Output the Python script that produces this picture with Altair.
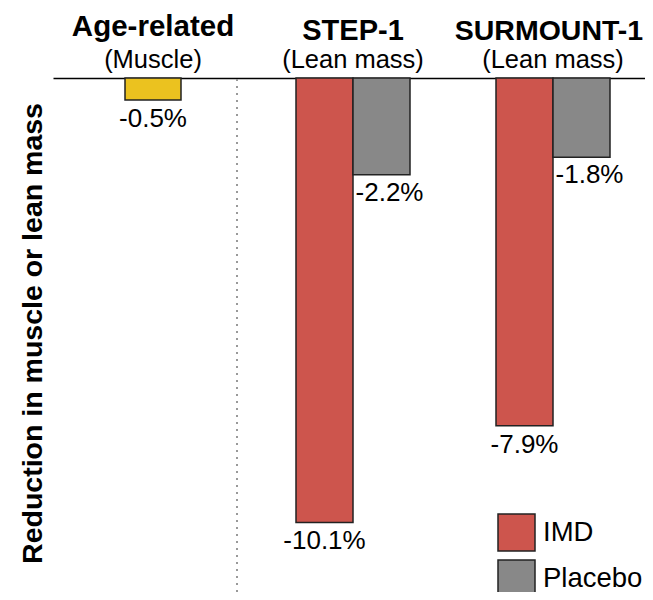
import altair as alt
import pandas as pd

# ---- data ----
groups = ["Age-related", "STEP-1", "SURMOUNT-1"]
titles = ["Age-related", "STEP-1", "SURMOUNT-1"]
subtitles = ["(Muscle)", "(Lean mass)", "(Lean mass)"]

age_group = ["Age-related"]
age_values = [-0.5]

trial_groups = ["STEP-1", "STEP-1", "SURMOUNT-1", "SURMOUNT-1"]
trial_series = ["IMD", "Placebo", "IMD", "Placebo"]
trial_values = [-10.1, -2.2, -7.9, -1.8]

series_domain = ["IMD", "Placebo"]
series_colors = ["#CD554D", "#888888"]
age_color = "#EBC21F"

FONT = "Liberation Sans"
Y_MIN = -11.68

age_df = pd.DataFrame({"group": age_group, "value": age_values})
age_df["label"] = [f"{v:.1f}%" for v in age_values]

bars_df = pd.DataFrame({"group": trial_groups, "series": trial_series, "value": trial_values})
bars_df["label"] = [f"{v:.1f}%" for v in trial_values]

head_df = pd.DataFrame({"group": groups, "title": titles, "subtitle": subtitles})
sep_df = pd.DataFrame({"group": ["Age-related"]})

xscale = alt.Scale(domain=groups, range=[0, 600], paddingInner=0.43, paddingOuter=0.215)
yscale = alt.Scale(domain=[Y_MIN, 0], nice=False)

top_axis = alt.Axis(orient="top", labels=False, ticks=False, title=None, grid=False,
                    domain=True, domainColor="black", domainWidth=1.5)

x_enc = alt.X("group:N", scale=xscale, axis=top_axis)
y_enc = alt.Y(
    "value:Q",
    scale=yscale,
    axis=alt.Axis(labels=False, ticks=False, domain=False, grid=False,
                  title="Reduction in muscle or lean mass",
                  titleFont=FONT, titleFontSize=28.5, titleFontWeight="bold",
                  titleColor="black", titleAngle=270, titleX=-12, titleY=255,
                  titleAlign="center", titleBaseline="alphabetic"),
)
xoff = alt.XOffset("series:N", scale=alt.Scale(domain=series_domain, paddingInner=0, paddingOuter=0))

sep = alt.Chart(sep_df).mark_rule(color="#999999", strokeWidth=2, strokeDash=[2, 5], xOffset=27).encode(
    x=alt.X("group:N", scale=xscale, bandPosition=1, axis=top_axis),
    y=alt.value(1),
    y2=alt.value(514),
)

age_bar = alt.Chart(age_df).mark_bar(size=56, color=age_color, stroke="#222222", strokeWidth=1.5).encode(
    x=x_enc, y=y_enc
)

trial_bars = alt.Chart(bars_df).mark_bar(stroke="#222222", strokeWidth=1.5).encode(
    x=x_enc,
    xOffset=xoff,
    y=y_enc,
    color=alt.Color(
        "series:N",
        scale=alt.Scale(domain=series_domain, range=series_colors),
        legend=alt.Legend(title=None, orient="none", legendX=444, legendY=435,
                          symbolType="square", symbolSize=1369,
                          symbolStrokeColor="#222222", symbolStrokeWidth=1.5,
                          symbolOpacity=1,
                          labelFont=FONT, labelFontSize=27.5, labelColor="black",
                          labelOffset=7, rowPadding=3, padding=0),
    ),
)

age_label = alt.Chart(age_df).mark_text(font=FONT, fontSize=26, baseline="alphabetic", dy=27, color="black").encode(
    x=x_enc, y=y_enc, text="label:N"
)

imd_label = alt.Chart(bars_df).transform_filter(alt.datum.series == "IMD").mark_text(
    font=FONT, fontSize=26, baseline="alphabetic", dy=27, color="black"
).encode(x=x_enc, xOffset=xoff, y=y_enc, text="label:N")

pla_label = alt.Chart(bars_df).transform_filter(alt.datum.series == "Placebo").mark_text(
    font=FONT, fontSize=26, baseline="alphabetic", dy=26, dx=8, color="black"
).encode(x=x_enc, xOffset=xoff, y=y_enc, text="label:N")

head_age = alt.Chart(head_df).transform_filter(alt.datum.group == "Age-related").mark_text(
    font=FONT, fontSize=29.5, fontWeight="bold", baseline="alphabetic", color="black"
).encode(x=x_enc, y=alt.value(-42), text="title:N")

head_step = alt.Chart(head_df).transform_filter(alt.datum.group == "STEP-1").mark_text(
    font=FONT, fontSize=29, fontWeight="bold", baseline="alphabetic", color="black"
).encode(x=x_enc, y=alt.value(-38), text="title:N")

head_surm = alt.Chart(head_df).transform_filter(alt.datum.group == "SURMOUNT-1").mark_text(
    font=FONT, fontSize=28.5, fontWeight="bold", baseline="alphabetic", color="black", dx=-4
).encode(x=x_enc, y=alt.value(-38), text="title:N")

sub = alt.Chart(head_df).mark_text(
    font=FONT, fontSize=25.5, baseline="alphabetic", color="black"
).encode(x=x_enc, y=alt.value(-10), text="subtitle:N")

chart = alt.layer(
    sep, age_bar, trial_bars, age_label, imd_label, pla_label, head_age, head_step, head_surm, sub
).properties(
    width=592,
    height=514,
    autosize=alt.AutoSizeParams(type="none"),
    padding={"left": 45, "top": 70, "right": 0, "bottom": 0},
).configure_view(stroke=None)

chart.save("out.html", embed_options={"renderer": "svg", "actions": False})
